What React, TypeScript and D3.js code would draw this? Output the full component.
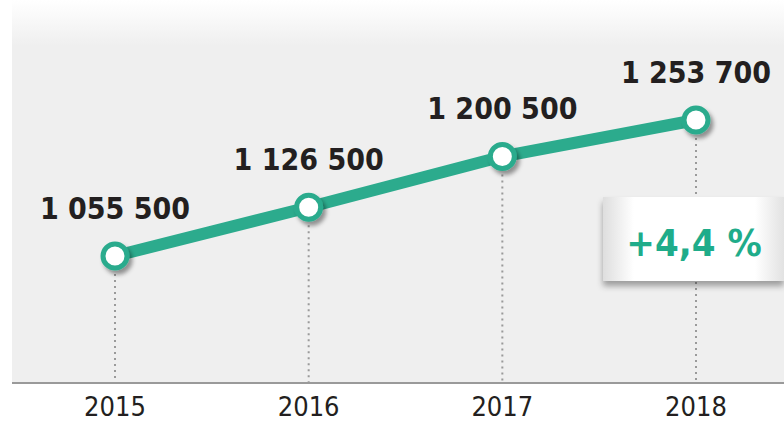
import React from "react";
import * as d3 from "d3";

const years = ["2015", "2016", "2017", "2018"];
const values = [1055500, 1126500, 1200500, 1253700];
const valueLabels = ["1 055 500", "1 126 500", "1 200 500", "1 253 700"];
const growthLabel = "+4,4 %";

const W = 784;
const H = 422;
const GREEN = "#2cab8d";
const TEXT_GREEN = "#1fac8a";
const DARK = "#231f20";
const FONT = "'DejaVu Sans', sans-serif";

export default function App() {
  const panelLeft = 12;
  const axisY = 383;
  const x = d3.scalePoint<string>().domain(years).range([115, 696]);
  const y = d3.scaleLinear().domain([870400, 1414000]).range([axisY, 10]);
  const pts = years.map((yr, i) => [x(yr) as number, y(values[i])] as [number, number]);
  const line = d3.line()(pts) as string;

  return (
    <div style={{ position: "absolute", left: 0, top: 0, width: W, height: H }}>
      <svg width={W} height={H} style={{ display: "block" }}>
        <defs>
          <linearGradient id="bg" x1="0" y1="0" x2="0" y2="1">
            <stop offset="0" stopColor="#ffffff" />
            <stop offset="0.12" stopColor="#efefef" />
            <stop offset="1" stopColor="#efefef" />
          </linearGradient>
          <linearGradient id="boxg" x1="0" y1="0" x2="1" y2="0">
            <stop offset="0" stopColor="#dedede" />
            <stop offset="0.17" stopColor="#ffffff" />
            <stop offset="0.84" stopColor="#ffffff" />
            <stop offset="1" stopColor="#e2e2e2" />
          </linearGradient>
          <filter id="shadow" x="-50%" y="-50%" width="200%" height="200%">
            <feDropShadow dx="3" dy="4" stdDeviation="2" floodColor="#000" floodOpacity="0.4" />
          </filter>
          <filter id="boxshadow" x="-20%" y="-20%" width="140%" height="160%">
            <feDropShadow dx="0" dy="5" stdDeviation="3" floodColor="#000" floodOpacity="0.35" />
          </filter>
        </defs>
        <rect x={panelLeft} y={0} width={W - panelLeft} height={axisY} fill="url(#bg)" />
        {pts.map(([px, py], i) => (
          <line key={"d" + i} x1={px} x2={px} y1={py} y2={axisY} stroke="#9a9a9a" strokeWidth={2} strokeDasharray="2,4" />
        ))}
        <line x1={panelLeft} x2={W} y1={axisY} y2={axisY} stroke="#9a9a9a" strokeWidth={2} />
        <path d={line} fill="none" stroke={GREEN} strokeWidth={12} />
        {pts.map(([px, py], i) => (
          <circle key={"c" + i} cx={px} cy={py} r={12} fill="#fff" stroke={GREEN} strokeWidth={5} filter="url(#shadow)" />
        ))}
        {pts.map(([px, py], i) => (
          <text key={"v" + i} x={px} y={py - 37} textAnchor="middle" fontFamily={FONT} fontStretch="condensed" fontWeight="bold" fontSize={30} fill={DARK}>
            {valueLabels[i]}
          </text>
        ))}
        {years.map((yr) => (
          <text key={yr} x={x(yr) as number} y={416} textAnchor="middle" fontFamily={FONT} fontStretch="condensed" fontSize={27} fill={DARK}>
            {yr}
          </text>
        ))}
        <rect x={603} y={197} width={W - 603} height={84} fill="url(#boxg)" filter="url(#boxshadow)" />
        <text x={694} y={256} textAnchor="middle" fontFamily={FONT} fontStretch="condensed" fontWeight="bold" fontSize={38} fill={TEXT_GREEN}>
          {growthLabel}
        </text>
      </svg>
    </div>
  );
}
